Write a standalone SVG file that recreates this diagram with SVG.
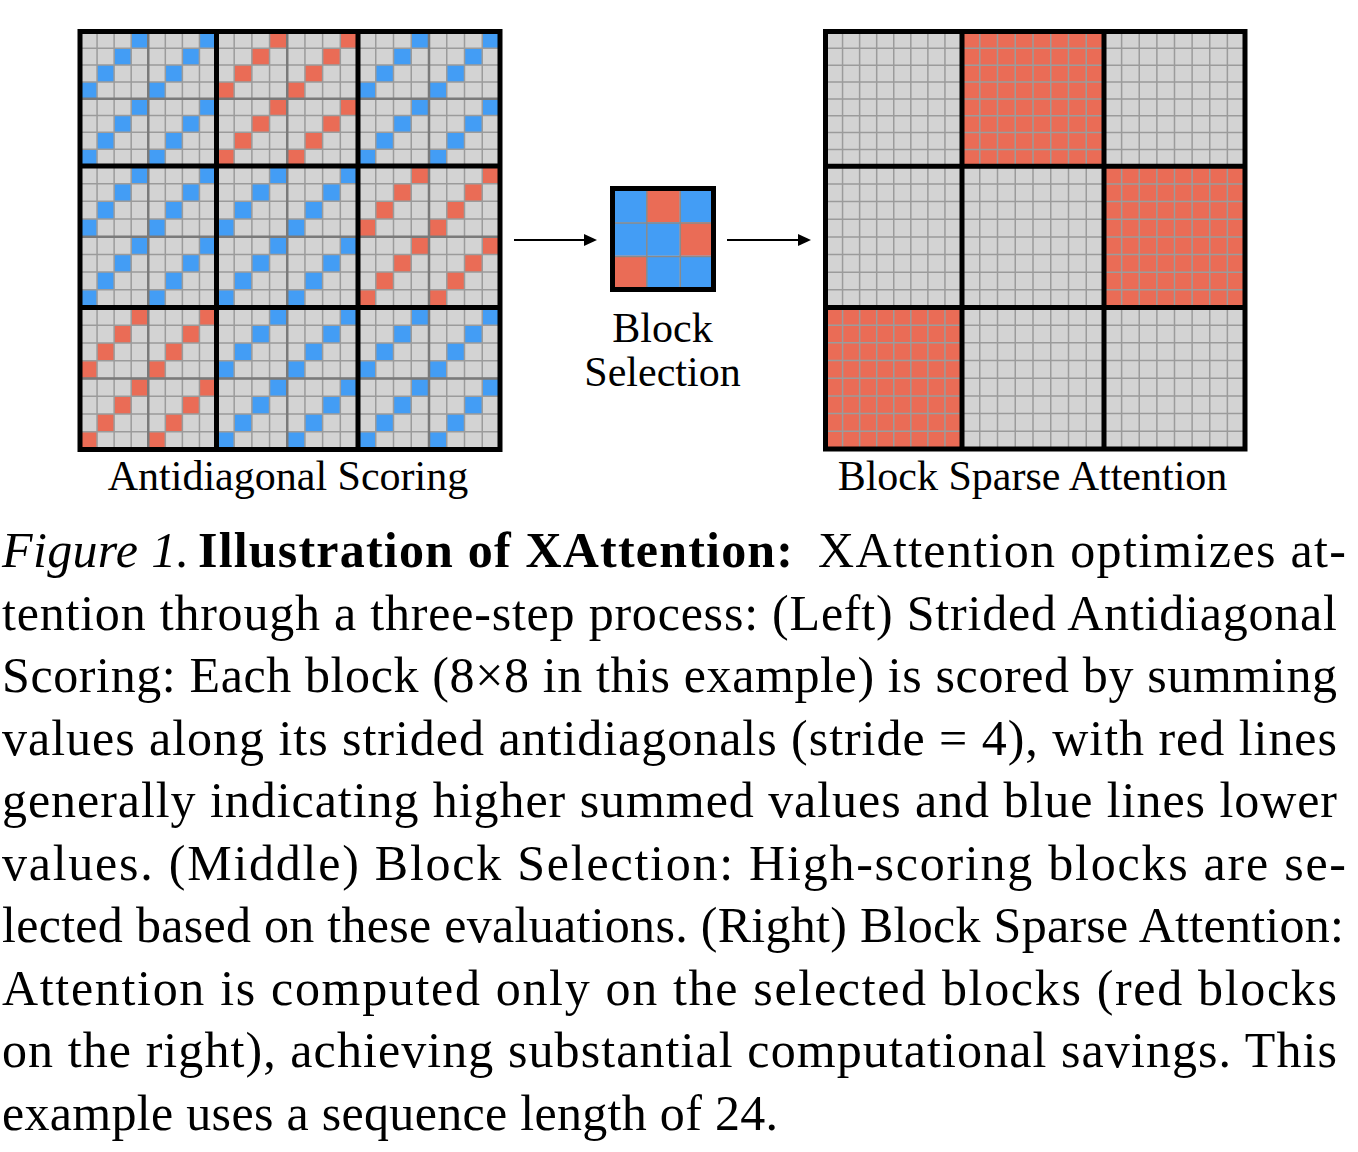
<svg xmlns="http://www.w3.org/2000/svg" xmlns:xlink="http://www.w3.org/1999/xlink" width="1358" height="1152" viewBox="0 0 1358 1152">
<style>
.cap{font-family:"Liberation Serif","Times New Roman",serif;font-size:50px;fill:#000}
.lbl{font-family:"Liberation Serif","Times New Roman",serif;font-size:42px;fill:#000;text-anchor:middle}
.thick{fill:none;stroke:#000;stroke-width:5}
.thin{fill:none;stroke:#9b9b9b;stroke-width:1.5}
.mid{fill:none;stroke:#7a7a7a;stroke-width:2.5}
.conn{stroke:#000;stroke-width:2;fill:none}
</style>
<defs>
<path id="thinL" class="thin" vector-effect="non-scaling-stroke" d="M17.5 0V140M35 0V140M52.5 0V140M70 0V140M87.5 0V140M105 0V140M122.5 0V140M0 17.5H140M0 35H140M0 52.5H140M0 70H140M0 87.5H140M0 105H140M0 122.5H140"/>
<path id="midL" class="mid" vector-effect="non-scaling-stroke" d="M70 0V140M0 70H140"/>
<path id="ad" d="M52.5 0h17.5v17.5h-17.5zM35 17.5h17.5v17.5h-17.5zM17.5 35h17.5v17.5h-17.5zM0 52.5h17.5v17.5h-17.5zM122.5 0h17.5v17.5h-17.5zM105 17.5h17.5v17.5h-17.5zM87.5 35h17.5v17.5h-17.5zM70 52.5h17.5v17.5h-17.5zM52.5 70h17.5v17.5h-17.5zM35 87.5h17.5v17.5h-17.5zM17.5 105h17.5v17.5h-17.5zM0 122.5h17.5v17.5h-17.5zM122.5 70h17.5v17.5h-17.5zM105 87.5h17.5v17.5h-17.5zM87.5 105h17.5v17.5h-17.5zM70 122.5h17.5v17.5h-17.5z"/>
<g id="blkB"><rect width="140" height="140" fill="#d3d3d3"/><use href="#ad" fill="#439DF5"/><use href="#thinL"/><use href="#midL"/></g>
<g id="blkR"><rect width="140" height="140" fill="#d3d3d3"/><use href="#ad" fill="#EA6C56"/><use href="#thinL"/><use href="#midL"/></g>
<g id="sG"><rect width="140" height="140" fill="#d3d3d3"/><use href="#thinL"/></g>
<g id="sR"><rect width="140" height="140" fill="#EA6C56"/><use href="#thinL"/></g>
<marker id="ah" markerUnits="userSpaceOnUse" markerWidth="14" markerHeight="14" refX="6" refY="6" orient="auto"><path d="M0 0L13 6L0 12z" fill="#000"/></marker>
</defs>

<g id="antidiagonal-scoring">
<use href="#blkB" transform="translate(80 31.5) scale(0.975 0.9607)"/>
<use href="#blkR" transform="translate(216.5 31.5) scale(1.0107 0.9607)"/>
<use href="#blkB" transform="translate(358 31.5) scale(1.0143 0.9607)"/>
<use href="#blkB" transform="translate(80 166) scale(0.975 1.0107)"/>
<use href="#blkB" transform="translate(216.5 166) scale(1.0107 1.0107)"/>
<use href="#blkR" transform="translate(358 166) scale(1.0143 1.0107)"/>
<use href="#blkR" transform="translate(80 307.5) scale(0.975 1.0143)"/>
<use href="#blkB" transform="translate(216.5 307.5) scale(1.0107 1.0143)"/>
<use href="#blkB" transform="translate(358 307.5) scale(1.0143 1.0143)"/>
<path class="thick" d="M80 166H500M80 307.5H500M216.5 31.5V449.5M358 31.5V449.5"/>
<rect class="thick" x="80" y="31.5" width="420" height="418"/>
<text class="lbl" x="288" y="490">Antidiagonal Scoring</text>
</g>

<g id="block-selection">
<rect x="612.5" y="188.5" width="33.7" height="33.7" fill="#439DF5"/>
<rect x="646.2" y="188.5" width="33.6" height="33.7" fill="#EA6C56"/>
<rect x="679.8" y="188.5" width="33.7" height="33.7" fill="#439DF5"/>
<rect x="612.5" y="222.2" width="33.7" height="33.6" fill="#439DF5"/>
<rect x="646.2" y="222.2" width="33.6" height="33.6" fill="#439DF5"/>
<rect x="679.8" y="222.2" width="33.7" height="33.6" fill="#EA6C56"/>
<rect x="612.5" y="255.8" width="33.7" height="33.7" fill="#EA6C56"/>
<rect x="646.2" y="255.8" width="33.6" height="33.7" fill="#439DF5"/>
<rect x="679.8" y="255.8" width="33.7" height="33.7" fill="#439DF5"/>
<path d="M646.8 188.5V289.5M680.3 188.5V289.5M612.5 223H713.5M612.5 256.5H713.5" stroke="#8a8a8a" stroke-width="1.5" fill="none"/>
<rect class="thick" x="612.5" y="188.5" width="101" height="101"/>
<text class="lbl" x="662.5" y="342">Block</text>
<text class="lbl" x="662.5" y="386">Selection</text>
</g>

<g id="block-sparse-attention">
<use href="#sG" transform="translate(825.5 31.5) scale(0.975 0.9629)"/>
<use href="#sR" transform="translate(962 31.5) scale(1.0143 0.9629)"/>
<use href="#sG" transform="translate(1104 31.5) scale(1.0071 0.9629)"/>
<use href="#sG" transform="translate(825.5 166.3) scale(0.975 1.0086)"/>
<use href="#sG" transform="translate(962 166.3) scale(1.0143 1.0086)"/>
<use href="#sR" transform="translate(1104 166.3) scale(1.0071 1.0086)"/>
<use href="#sR" transform="translate(825.5 307.5) scale(0.975 1.0107)"/>
<use href="#sG" transform="translate(962 307.5) scale(1.0143 1.0107)"/>
<use href="#sG" transform="translate(1104 307.5) scale(1.0071 1.0107)"/>
<path class="thick" d="M825.5 166.3H1245M825.5 307.5H1245M962 31.5V449M1104 31.5V449"/>
<rect class="thick" x="825.5" y="31.5" width="419.5" height="417.5"/>
<text class="lbl" x="1032.5" y="490">Block Sparse Attention</text>
</g>

<g id="connectors">
<line class="conn" x1="514" y1="240" x2="590" y2="240" marker-end="url(#ah)"/>
<line class="conn" x1="727" y1="240" x2="804" y2="240" marker-end="url(#ah)"/>
</g>

<g id="caption">
<text class="cap" x="2" y="567" font-style="italic" textLength="187" lengthAdjust="spacing">Figure 1.</text>
<text class="cap" x="198" y="567" font-weight="bold" textLength="595" lengthAdjust="spacing">Illustration of XAttention:</text>
<text class="cap" x="818" y="567" textLength="528" lengthAdjust="spacing">XAttention optimizes at-</text>
<text class="cap" x="2" y="629.5" textLength="1335" lengthAdjust="spacing">tention through a three-step process: (Left) Strided Antidiagonal</text>
<text class="cap" x="2" y="692" textLength="1335" lengthAdjust="spacing">Scoring: Each block (8×8 in this example) is scored by summing</text>
<text class="cap" x="2" y="754.5" textLength="1335" lengthAdjust="spacing">values along its strided antidiagonals (stride = 4), with red lines</text>
<text class="cap" x="2" y="817" textLength="1335" lengthAdjust="spacing">generally indicating higher summed values and blue lines lower</text>
<text class="cap" x="2" y="879.5" textLength="1344" lengthAdjust="spacing">values. (Middle) Block Selection: High-scoring blocks are se-</text>
<text class="cap" x="2" y="942" textLength="1342" lengthAdjust="spacing">lected based on these evaluations. (Right) Block Sparse Attention:</text>
<text class="cap" x="2" y="1004.5" textLength="1335" lengthAdjust="spacing">Attention is computed only on the selected blocks (red blocks</text>
<text class="cap" x="2" y="1067" textLength="1335" lengthAdjust="spacing">on the right), achieving substantial computational savings. This</text>
<text class="cap" x="2" y="1129.5" textLength="776" lengthAdjust="spacing">example uses a sequence length of 24.</text>
</g>
</svg>
